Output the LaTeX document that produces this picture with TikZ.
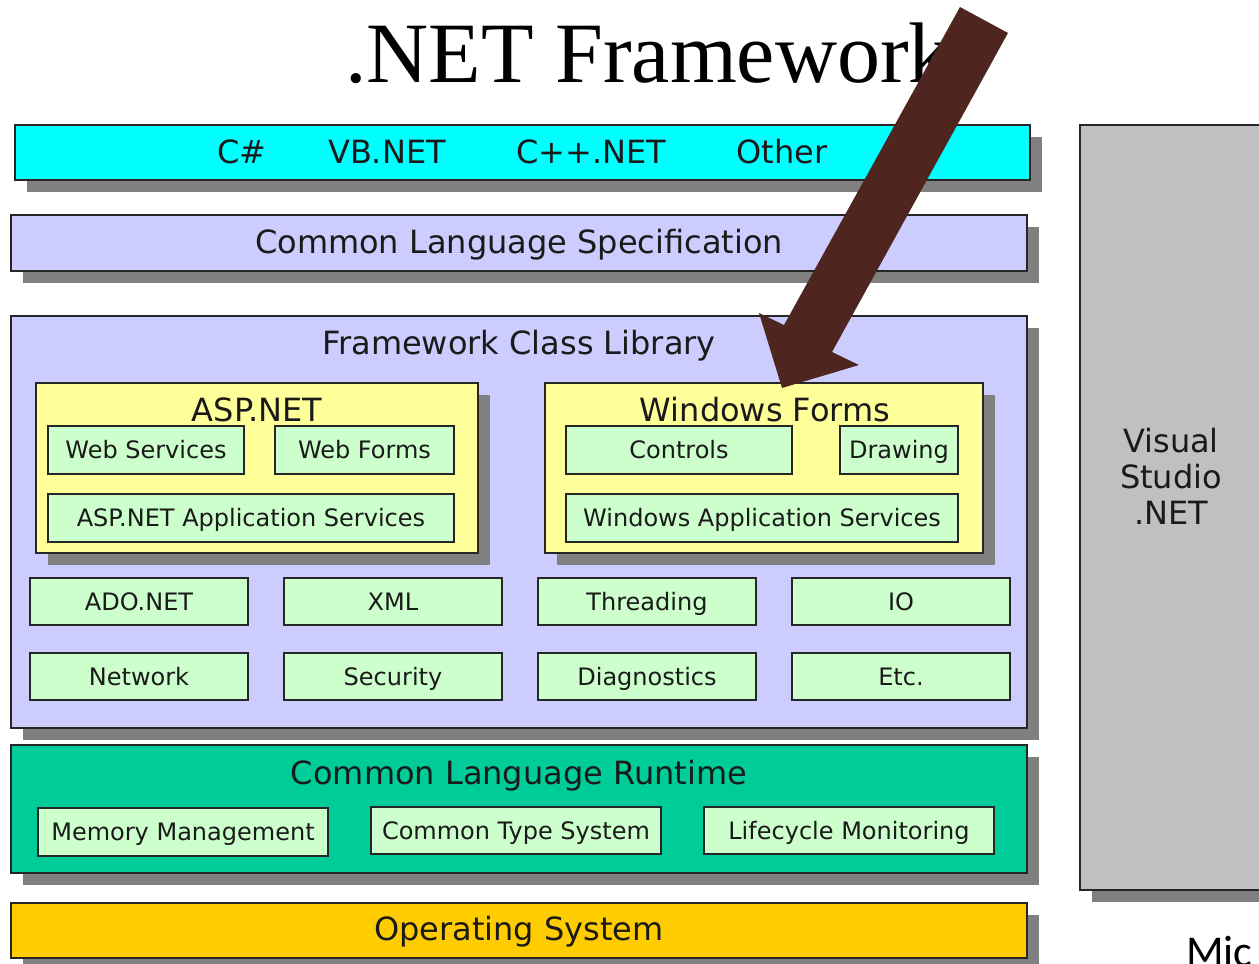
\documentclass[tikz,border=0pt]{standalone}
\usepackage{fontspec}
\setmainfont{DejaVu Sans}
\newfontfamily\titlefont{Liberation Serif}
\newfontfamily\micfont{Carlito}
\usetikzlibrary{shadows}
\definecolor{langcyan}{HTML}{00FFFF}
\definecolor{lav}{HTML}{CCCCFF}
\definecolor{lyellow}{HTML}{FFFF99}
\definecolor{lgreen}{HTML}{CCFFCC}
\definecolor{clrteal}{HTML}{00CC99}
\definecolor{osgold}{HTML}{FFCC00}
\definecolor{vsgray}{HTML}{C0C0C0}
\definecolor{shadowgray}{HTML}{808080}
\definecolor{arrowbrown}{HTML}{4F261F}
\definecolor{txt}{HTML}{1A1A1A}
\begin{document}
\begin{tikzpicture}[x=1pt,y=-1pt,
  box/.style={draw=black!85, line width=1.3pt, rectangle, inner sep=0pt, anchor=center},
  shad/.style={drop shadow={shadow xshift=12pt, shadow yshift=-12pt, fill=shadowgray, opacity=1}},
  big/.style={font=\fontsize{32}{36}\selectfont, text=txt, inner sep=0pt, text height=23pt, text depth=0pt},
  small/.style={font=\fontsize{24}{28}\selectfont, text=txt, text height=17.5pt, text depth=0pt},
  gbox/.style={box, fill=lgreen, small},
  layer/.style={box, shad, minimum width=1016pt},
]
\useasboundingbox (0,0) rectangle (1259,964);
\clip (0,0) rectangle (1259,964);

% title
\node[font=\titlefont\fontsize{86}{90}\selectfont, anchor=base west, inner sep=0pt] (title) at (345,82) {.NET Framework};

% languages
\node[layer, fill=langcyan, minimum width=1015pt, minimum height=55pt] (lang) at (522.5,152.5) {};
\node[big] (cs) at (242,152) {C\#};
\node[big] (vb) at (387,152) {VB.NET};
\node[big] (cpp) at (591,152) {C++.NET};
\node[big] (oth) at (782,152) {Other};

% CLS
\node[layer, fill=lav, minimum height=56pt] (cls) at (519,243) {};
\node[big] (clst) at (519,242) {Common Language Specification};

% FCL
\node[layer, fill=lav, minimum height=412pt] (fcl) at (519,522) {};
\node[big] (fclt) at (519,343) {Framework Class Library};

% ASP.NET
\node[box, shad, fill=lyellow, minimum width=442pt, minimum height=170pt] (asp) at (257,468) {};
\node[big] (aspt) at (257,410) {ASP.NET};
\node[gbox, minimum width=196pt, minimum height=48pt] (ws) at (146,450) {Web Services};
\node[gbox, minimum width=179pt, minimum height=48pt] (wf) at (364.5,450) {Web Forms};
\node[gbox, minimum width=406pt, minimum height=48pt] (aas) at (251,518) {ASP.NET Application Services};

% Windows Forms
\node[box, shad, fill=lyellow, minimum width=438pt, minimum height=170pt] (win) at (764,468) {};
\node[big] (wint) at (765,410) {Windows Forms};
\node[gbox, minimum width=226pt, minimum height=48pt] (ctl) at (679,450) {Controls};
\node[gbox, minimum width=118pt, minimum height=48pt] (drw) at (899,450) {Drawing};
\node[gbox, minimum width=392pt, minimum height=48pt] (was) at (762,518) {Windows Application Services};

% rows
\node[gbox, minimum width=218pt, minimum height=47pt] (ado) at (139,601.5) {ADO.NET};
\node[gbox, minimum width=218pt, minimum height=47pt] (xml) at (393,601.5) {XML};
\node[gbox, minimum width=218pt, minimum height=47pt] (thr) at (647,601.5) {Threading};
\node[gbox, minimum width=218pt, minimum height=47pt] (io) at (901,601.5) {IO};
\node[gbox, minimum width=218pt, minimum height=47pt] (net) at (139,676.5) {Network};
\node[gbox, minimum width=218pt, minimum height=47pt] (sec) at (393,676.5) {Security};
\node[gbox, minimum width=218pt, minimum height=47pt] (dia) at (647,676.5) {Diagnostics};
\node[gbox, minimum width=218pt, minimum height=47pt] (etc) at (901,676.5) {Etc.};

% CLR
\node[layer, fill=clrteal, minimum height=128pt] (clr) at (519,809) {};
\node[big] (clrt) at (519,773) {Common Language Runtime};
\node[gbox, minimum width=290pt, minimum height=48pt] (mm) at (183,832) {Memory Management};
\node[gbox, minimum width=290pt, minimum height=47pt] (cts) at (516,830.5) {Common Type System};
\node[gbox, minimum width=290pt, minimum height=47pt] (lm) at (849,830.5) {Lifecycle Monitoring};

% OS
\node[layer, fill=osgold, minimum height=55pt] (os) at (519,930.5) {};
\node[big] (ost) at (519,929) {Operating System};

% Visual Studio
\node[box, shad, fill=vsgray, minimum width=184pt, minimum height=765pt] (vs) at (1172,507.5) {};
\node[align=center, font=\fontsize{32}{36}\selectfont, text=txt, inner sep=0pt] (vst) at (1171,476) {Visual\\Studio\\.NET};

% Mic
\node[font=\micfont\fontsize{44}{44}\selectfont, anchor=base west, inner sep=0pt] (mic) at (1186,966) {Mic};

% arrow
\coordinate (tip) at (782,388);
\fill[arrowbrown] (960,7) -- (1008,33) -- (832,352) -- (859,365) -- (tip) -- (759,313) -- (784,325) -- cycle;
\end{tikzpicture}
\end{document}
